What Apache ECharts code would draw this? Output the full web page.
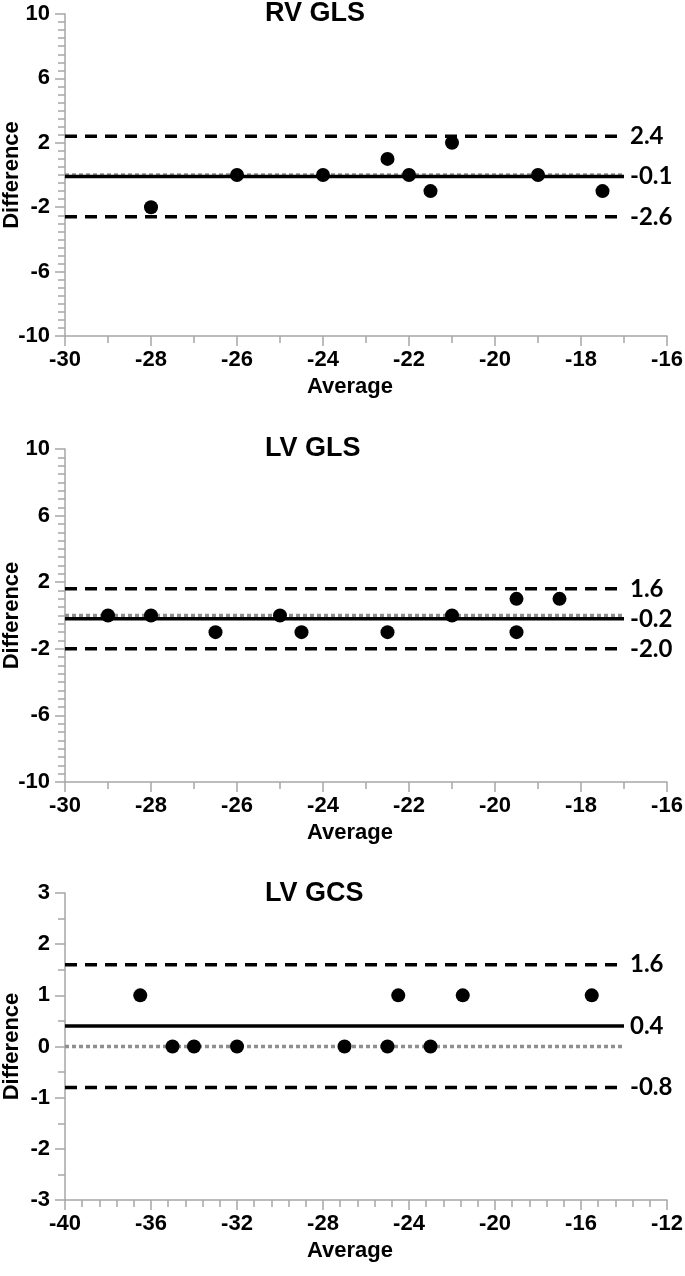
<!DOCTYPE html>
<html><head><meta charset="utf-8">
<script src="https://cdn.jsdelivr.net/npm/echarts@6/dist/echarts.min.js"></script>
<style>html,body{margin:0;padding:0;background:#fff;}#c{width:685px;height:1276px;}</style>
</head><body><div id="c"></div>
<script>
// ---- data ----
var titles = ['RV GLS', 'LV GLS', 'LV GCS'];
var rvAvg  = [-28, -26, -24, -22.5, -22, -21.5, -21, -19, -17.5];
var rvDiff = [-2, 0, 0, 1, 0, -1, 2, 0, -1];
var rvLimits = [2.4, -0.1, -2.6];          // upper LoA, mean, lower LoA
var lvGlsAvg  = [-29, -28, -26.5, -25, -24.5, -22.5, -21, -19.5, -19.5, -18.5];
var lvGlsDiff = [0, 0, -1, 0, -1, -1, 0, 1, -1, 1];
var lvGlsLimits = [1.6, -0.2, -2.0];
var lvGcsAvg  = [-36.5, -35, -34, -32, -27, -25, -24.5, -23, -21.5, -15.5];
var lvGcsDiff = [1, 0, 0, 0, 0, 0, 1, 0, 1, 1];
var lvGcsLimits = [1.6, 0.4, -0.8];
var xRanges = [[-30, -16], [-30, -16], [-40, -12]];
var lineSpans = [[-30, -17], [-30, -17], [-40, -14]];
var yRanges = [[-10, 10], [-10, 10], [-3, 3]];
var xIntervals = [2, 2, 4];
var yIntervals = [4, 4, 1];

// ---- layout ----
var grids = [
  {left: 65, right: 18, top: 14, height: 322, outerBoundsMode: 'none', containLabel: false},
  {left: 65, right: 18, top: 449, height: 333, outerBoundsMode: 'none', containLabel: false},
  {left: 65, right: 18, top: 893, height: 307, outerBoundsMode: 'none', containLabel: false}
];
var xMinorSplit = [2, 2, 5];
var yMinorSplit = [8, 8, 2];
var titleTops = [0, 435, 880];

var avgs = [rvAvg, lvGlsAvg, lvGcsAvg];
var diffs = [rvDiff, lvGlsDiff, lvGcsDiff];
var limits = [rvLimits, lvGlsLimits, lvGcsLimits];

var axisColor = '#a6a6a6';
var tickFont = {fontFamily: 'Liberation Sans', fontWeight: 'bold', fontSize: 22, color: '#000'};
var nameFont = {fontFamily: 'Liberation Sans', fontWeight: 'bold', fontSize: 22, color: '#000'};
var endFont = {fontFamily: 'Lato', fontWeight: 'bold', fontSize: 24, color: '#000'};

var xAxes = [], yAxes = [], series = [], titleArr = [];
for (var i = 0; i < 3; i++) {
  titleArr.push({text: titles[i], left: 265, top: titleTops[i], padding: 0,
    textStyle: {fontFamily: 'Liberation Sans', fontWeight: 'bold', fontSize: 27, color: '#000'}});
  xAxes.push({
    gridIndex: i, type: 'value', min: xRanges[i][0], max: xRanges[i][1], interval: xIntervals[i],
    name: 'Average', nameLocation: 'middle', nameGap: 40, nameMoveOverlap: false,
    nameTextStyle: Object.assign({padding: [0, 32, 0, 0]}, nameFont),
    axisLine: {onZero: false, lineStyle: {color: axisColor, width: 1.5}},
    axisTick: {show: true, inside: false, length: 10, lineStyle: {color: axisColor, width: 1.5}},
    minorTick: {show: true, splitNumber: xMinorSplit[i], length: 7, lineStyle: {color: axisColor, width: 1.5}},
    axisLabel: Object.assign({margin: 13}, tickFont),
    splitLine: {show: false}
  });
  yAxes.push({
    gridIndex: i, type: 'value', min: yRanges[i][0], max: yRanges[i][1], interval: yIntervals[i],
    name: 'Difference', nameLocation: 'middle', nameGap: 42, nameRotate: 90, nameMoveOverlap: false,
    nameTextStyle: nameFont,
    axisLine: {show: true, onZero: false, lineStyle: {color: axisColor, width: 1.5}},
    axisTick: {show: true, inside: false, length: 10, lineStyle: {color: axisColor, width: 1.5}},
    minorTick: {show: true, splitNumber: yMinorSplit[i], length: 7, lineStyle: {color: axisColor, width: 1.5}},
    axisLabel: Object.assign({margin: 15}, tickFont),
    splitLine: {show: false}
  });
  var s0 = lineSpans[i][0], s1 = lineSpans[i][1];
  // zero reference (dotted gray)
  series.push({type: 'line', xAxisIndex: i, yAxisIndex: i, data: [[s0, 0], [s1, 0]],
    symbol: 'none', silent: true, z: 1,
    lineStyle: {color: '#8f8f8f', width: 3.5, type: [4, 3]}});
  var lim = limits[i];
  var types = [[12, 8], 'solid', [12, 8]];
  for (var k = 0; k < 3; k++) {
    series.push({type: 'line', xAxisIndex: i, yAxisIndex: i, data: [[s0, lim[k]], [s1, lim[k]]],
      symbol: 'none', silent: true, z: 2,
      lineStyle: {color: '#000', width: 3.5, type: types[k]},
      endLabel: Object.assign({show: true, distance: 6, formatter: function (p) { return p.value[1].toFixed(1); }}, endFont)
    });
  }
  var pts = avgs[i].map(function (a, j) { return [a, diffs[i][j]]; });
  series.push({type: 'scatter', xAxisIndex: i, yAxisIndex: i, data: pts,
    symbol: 'circle', symbolSize: 14, z: 5, itemStyle: {color: '#000', opacity: 1}});
}

var chart = echarts.init(document.getElementById('c'), null, {renderer: 'canvas'});
chart.setOption({
  animation: false,
  backgroundColor: '#fff',
  title: titleArr,
  grid: grids,
  xAxis: xAxes,
  yAxis: yAxes,
  series: series
});
</script></body></html>
